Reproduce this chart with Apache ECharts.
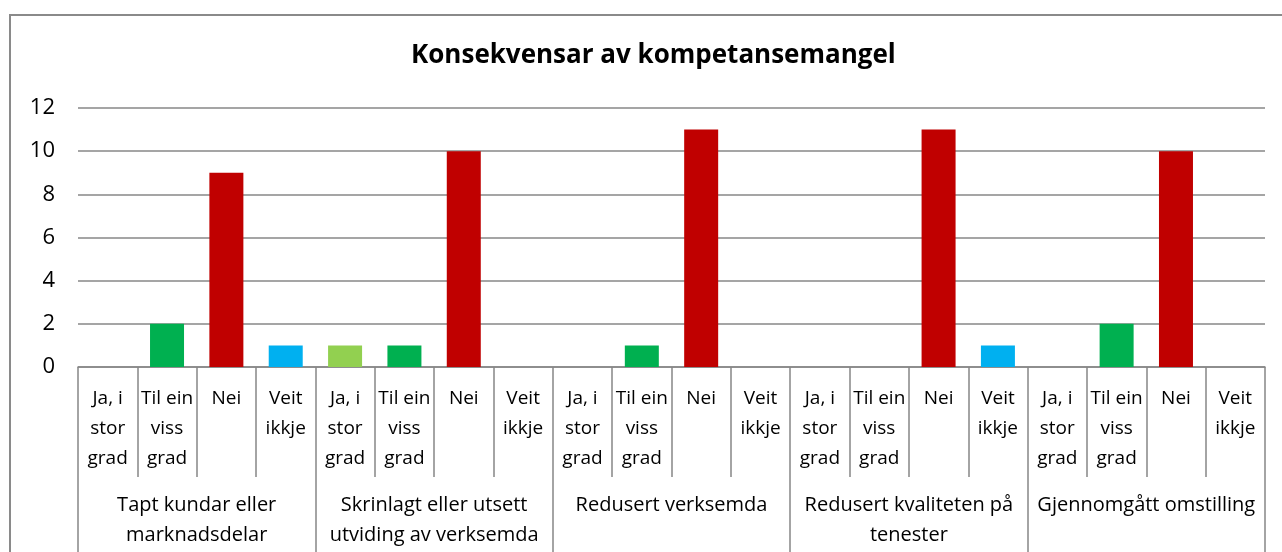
<!DOCTYPE html>
<html>
<head>
<meta charset="utf-8">
<script src="https://cdn.jsdelivr.net/npm/echarts@6/dist/echarts.min.js"></script>
<style>
  html, body { margin: 0; padding: 0; background: #fff; }
  #chart { width: 1282px; height: 552px; }
</style>
</head>
<body>
<div id="chart"></div>
<script>
// Answer options (inner axis level) and their bar colours
const answers = ['Ja, i\nstor\ngrad', 'Til ein\nviss\ngrad', 'Nei', 'Veit\nikkje'];
const answerColors = ['#92D050', '#00B050', '#C00000', '#00B0F0'];

// Consequence groups (outer axis level)
const groups = [
  'Tapt kundar eller\nmarknadsdelar',
  'Skrinlagt eller utsett\nutviding av verksemda',
  'Redusert verksemda',
  'Redusert kvaliteten på\ntenester',
  'Gjennomgått omstilling'
];

// Counts per group, in answer order
const taptKundar = [0, 2, 9, 1];
const skrinlagt = [1, 1, 10, 0];
const redusertVerksemda = [0, 1, 11, 0];
const redusertKvalitet = [0, 0, 11, 1];
const omstilling = [0, 2, 10, 0];

const yTicks = [0, 2, 4, 6, 8, 10, 12];

const groupValues = [taptKundar, skrinlagt, redusertVerksemda, redusertKvalitet, omstilling];

const innerCats = [];
const barData = [];
groupValues.forEach((vals, g) => {
  vals.forEach((v, i) => {
    innerCats.push(answers[i]);
    barData.push({ value: v, itemStyle: { color: answerColors[i] } });
  });
});

const FONT = '"Open Sans", "Noto Sans", sans-serif';
const AXIS_GREY = '#878787';

const chart = echarts.init(document.getElementById('chart'), null, { renderer: 'canvas' });
chart.setOption({
  animation: false,
  backgroundColor: '#ffffff',
  title: {
    text: 'Konsekvensar av kompetansemangel',
    left: 406,
    top: 38,
    textStyle: { fontFamily: FONT, fontWeight: 'bold', fontSize: 26, color: '#000' }
  },
  graphic: [{
    type: 'rect',
    shape: { x: 10, y: 15, width: 1300, height: 600 },
    style: { fill: 'none', stroke: '#8a8a8a', lineWidth: 2 },
    silent: true,
    z: -1
  }],
  grid: { left: 78, right: 17, top: 108, bottom: 185, containLabel: false },
  xAxis: [
    {
      type: 'category',
      data: innerCats,
      position: 'bottom',
      axisLine: { show: true, lineStyle: { color: AXIS_GREY, width: 1.5 } },
      axisTick: { show: true, interval: 0, length: 110, lineStyle: { color: AXIS_GREY, width: 1.5 } },
      axisLabel: {
        interval: 0, margin: 17, fontFamily: FONT, fontSize: 19, color: '#000',
        lineHeight: 30, verticalAlign: 'top'
      },
      splitLine: { show: false }
    },
    {
      type: 'category',
      data: groups,
      position: 'bottom',
      offset: 110,
      axisLine: { show: false },
      axisTick: { show: true, interval: 0, length: 100, lineStyle: { color: AXIS_GREY, width: 1.5 } },
      axisLabel: {
        interval: 0, margin: 13, fontFamily: FONT, fontSize: 20, color: '#000',
        lineHeight: 30, verticalAlign: 'top'
      },
      splitLine: { show: false }
    }
  ],
  yAxis: {
    type: 'value',
    min: yTicks[0],
    max: yTicks[yTicks.length - 1],
    interval: 2,
    axisLine: { show: false },
    axisTick: { show: false },
    axisLabel: { margin: 23, fontFamily: FONT, fontSize: 22, color: '#000' },
    splitLine: { show: true, lineStyle: { color: AXIS_GREY, width: 1.5 } }
  },
  series: [{
    type: 'bar',
    xAxisIndex: 0,
    data: barData,
    barWidth: 34
  }]
});
</script>
</body>
</html>
